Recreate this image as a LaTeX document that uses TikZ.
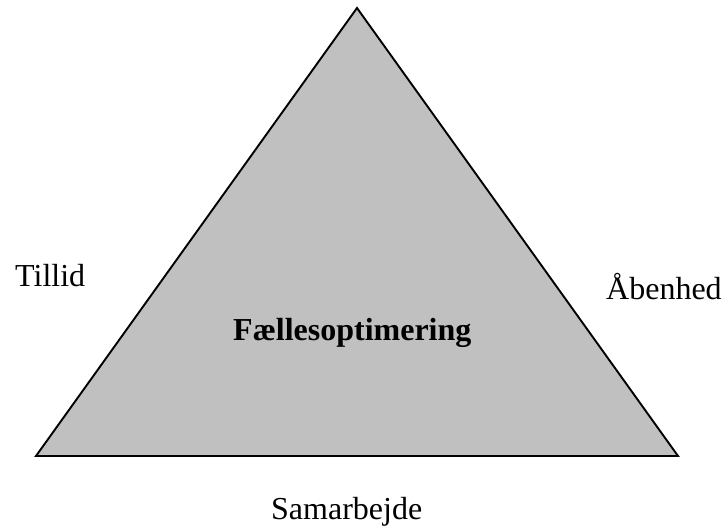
\documentclass[tikz,border=0pt]{standalone}
\usepackage{fontspec}
\setmainfont{Liberation Serif}
\definecolor{trigray}{HTML}{C0C0C0}
\begin{document}
\begin{tikzpicture}[x=1pt,y=1pt,
  lbl/.style={anchor=base west,inner sep=0pt,font=\fontsize{32}{38}\selectfont}]
\useasboundingbox (0,0) rectangle (723,526);
\coordinate (l) at (36,70);
\coordinate (r) at (678,70);
\coordinate (t) at (357,518);
\draw[line width=1.9pt,fill=trigray,line join=miter] (l) -- (r) -- (t) -- cycle;
\node[lbl] (tillid) at (15,239) {Tillid};
\node[lbl] (aabenhed) at (606,226) {Åbenhed};
\node[lbl,font=\fontsize{32}{38}\selectfont\bfseries] (faelles) at (233,185) {Fællesoptimering};
\node[lbl] (samarbejde) at (271,6) {Samarbejde};
\end{tikzpicture}
\end{document}
